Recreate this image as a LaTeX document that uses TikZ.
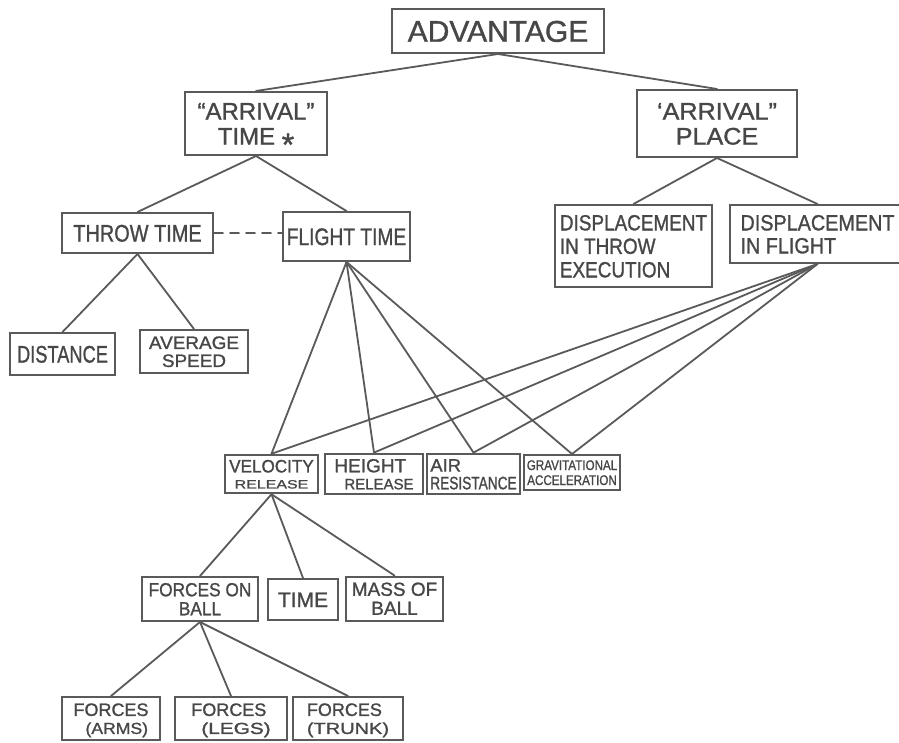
\documentclass[tikz,border=0pt]{standalone}
\usepackage{fontspec}
\setmainfont{Liberation Sans}[FakeBold=1.2]
\usepackage{graphicx}
\definecolor{ink}{HTML}{5A5A5A}
\definecolor{txt}{HTML}{474747}
\newcommand{\hwtext}[5]{\pgfmathsetlengthmacro\hwtop{0.3*#4+0.716*#3}\scalebox{#2}[1]{\fontsize{#3}{#4}\selectfont\begin{tabular}{@{}#1@{}}\rule{0pt}{\hwtop}#5\end{tabular}}}
\newcommand{\fsz}[2]{{\fontsize{#1}{#1}\selectfont #2}}
\newcommand{\sxx}[2]{\scalebox{#1}[1]{#2}}
\begin{document}
\begin{tikzpicture}[x=1pt,y=-1pt,
  box/.style 2 args={draw=ink, line width=2pt, text=txt, inner sep=0pt, minimum width=#1, minimum height=#2},
  link/.style={draw=ink, line width=1.8pt, line cap=round}]
\fill[white] (0,0) rectangle (899,743);
\useasboundingbox (0,0) rectangle (899,743);

\node[box={212}{44}] (adv) at (498,31) {\hwtext{c}{1}{30}{32}{ADVANTAGE}};
\node[box={142}{63}] (at) at (256,123.5) {\hwtext{c}{1}{24}{25}{“ARRIVAL”\\TIME \smash{\raisebox{-11pt}{\fsz{32}{*}}}}};
\node[box={160}{67}] (ap) at (717,123.5) {\hwtext{c}{1.05}{24}{25}{‘ARRIVAL”\\PLACE}};
\node[box={151}{40}] (tt) at (137.5,233) {\hwtext{c}{0.83}{24}{26}{THROW TIME}};
\node[box={127}{49}] (ft) at (346.5,236.5) {\hwtext{c}{0.8}{24}{26}{FLIGHT TIME}};
\node[box={157}{82}] (dte) at (633.5,246) {\hwtext{l}{0.86}{22}{23.5}{DISPLACEMENT\\IN THROW\\EXECUTION}};
\node[box={175}{58}] (dfl) at (817.5,234) {\hwtext{l}{0.9}{22}{23}{DISPLACEMENT\\IN FLIGHT}};
\node[box={105}{42}] (dist) at (62.5,354) {\hwtext{c}{0.76}{24}{26}{DISTANCE}};
\node[box={108}{43}] (avg) at (194,351.5) {\hwtext{c}{1.05}{18}{18}{AVERAGE\\SPEED}};
\node[box={93}{38}] (vel) at (271.5,474) {\hwtext{c}{0.95}{18}{16}{VELOCITY\\\fsz{12}{\sxx{1.4}{RELEASE}}}};
\node[box={98}{38}] (hr) at (374,474) {\hwtext{l}{1}{19}{17}{HEIGHT\\\hspace{10pt}\fsz{15}{RELEASE}}};
\node[box={93}{38}] (air) at (473.5,474) {\hwtext{l}{0.76}{18}{17}{\sxx{1.35}{AIR}\\RESISTANCE}};
\node[box={96}{35}] (grav) at (572,472.5) {\hwtext{c}{0.83}{14}{15}{GRAVITATIONAL\\ACCELERATION}};
\node[box={116}{44}] (fob) at (200,599) {\hwtext{c}{0.91}{19}{19}{FORCES ON\\BALL}};
\node[box={70}{41}] (time) at (303,599.5) {\hwtext{c}{1}{21}{24}{TIME}};
\node[box={97}{43}] (mass) at (394.5,598.5) {\hwtext{c}{1}{19}{19}{MASS OF\\BALL}};
\node[box={98}{43}] (arms) at (111,718.5) {\hwtext{l}{1}{18}{18}{FORCES\\\hspace{12pt}\fsz{16}{\sxx{1.1}{(ARMS)}}}};
\node[box={112}{43}] (legs) at (231,718.5) {\hwtext{l}{1}{18}{18}{FORCES\\\hspace{10pt}\fsz{16}{\sxx{1.3}{(LEGS)}}}};
\node[box={110}{43}] (trunk) at (348,718.5) {\hwtext{l}{1}{18}{18}{FORCES\\\fsz{16}{\sxx{1.25}{(TRUNK)}}}};

\draw[link] (adv.south) -- (at.north);
\draw[link] (adv.south) -- (ap.north);
\draw[link] (at.south) -- (tt.north);
\draw[link] (at.south) -- (ft.north);
\draw[link, dash pattern=on 9pt off 7pt] (tt.east) -- (tt.east -| ft.west);
\draw[link] (ap.south) -- (dte.north);
\draw[link] (ap.south) -- (dfl.north);
\draw[link] (tt.south) -- (dist.north);
\draw[link] (tt.south) -- (avg.north);
\foreach \n in {vel,hr,air,grav} {
  \draw[link] (ft.south) -- (\n.north);
  \draw[link] (dfl.south) -- (\n.north);
}
\foreach \n in {fob,time,mass} \draw[link] (vel.south) -- (\n.north);
\foreach \n in {arms,legs,trunk} \draw[link] (fob.south) -- (\n.north);
\end{tikzpicture}
\end{document}
